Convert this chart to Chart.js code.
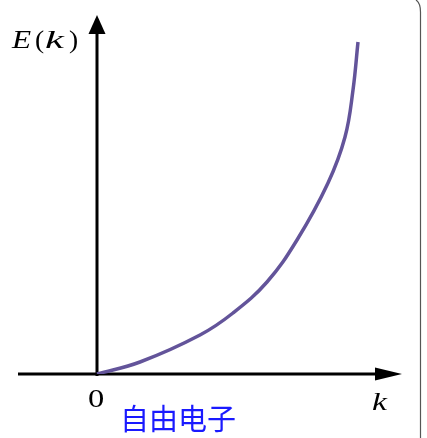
<!DOCTYPE html>
<html>
<head>
<meta charset="utf-8">
<script src="https://cdn.jsdelivr.net/npm/chart.js@4/dist/chart.umd.min.js"></script>
<style>
  html, body { margin: 0; padding: 0; background: #ffffff; }
  #wrap { width: 427px; height: 438px; position: relative; }
</style>
</head>
<body>
<div id="wrap"><canvas id="c" width="427" height="438"></canvas></div>
<script>
// Values (k in plot units from the origin, E(k) in plot units)
const kValues      = [0, 43, 103, 136, 170, 200, 231, 248, 256, 261];
const energyValues = [0, 12, 39,  61,  92,  134, 191, 237, 284, 332];
const yAxisLabel = ['E', '(', 'k', ')'];
const xAxisLabel = 'k';
const originLabel = '0';
const captionText = '自由电子';

const points = kValues.map((k, i) => ({ x: k, y: energyValues[i] }));

const axesPlugin = {
  id: 'arrowAxes',
  beforeDatasetsDraw(chart) {
    const { ctx, scales } = chart;
    const x = scales.x, y = scales.y;
    const ox = x.getPixelForValue(0);
    const oy = y.getPixelForValue(0);
    const xLeft = x.getPixelForValue(x.min);
    const xTip = x.getPixelForValue(x.max) + 2;
    const yTip = y.getPixelForValue(y.max) - 3;
    ctx.save();
    ctx.strokeStyle = '#000';
    ctx.fillStyle = '#000';
    ctx.lineWidth = 3;
    // x axis
    ctx.beginPath();
    ctx.moveTo(xLeft, oy);
    ctx.lineTo(xTip - 24, oy);
    ctx.stroke();
    ctx.beginPath();
    ctx.moveTo(xTip, oy);
    ctx.lineTo(xTip - 27, oy - 6.5);
    ctx.lineTo(xTip - 27, oy + 6.5);
    ctx.closePath();
    ctx.fill();
    // y axis
    ctx.beginPath();
    ctx.moveTo(ox, oy + 2);
    ctx.lineTo(ox, yTip + 17);
    ctx.stroke();
    ctx.beginPath();
    ctx.moveTo(ox, yTip);
    ctx.lineTo(ox - 8.5, yTip + 19);
    ctx.lineTo(ox + 8.5, yTip + 19);
    ctx.closePath();
    ctx.fill();
    ctx.restore();
  },
  afterDraw(chart) {
    const { ctx, scales } = chart;
    const x = scales.x, y = scales.y;
    const ox = x.getPixelForValue(0);
    const oy = y.getPixelForValue(0);
    const xEnd = x.getPixelForValue(x.max);
    const yTop = y.getPixelForValue(y.max);
    ctx.save();
    ctx.fillStyle = '#000';
    ctx.textBaseline = 'alphabetic';
    ctx.textAlign = 'left';
    const stretch = (txt, px, py, font, sx) => {
      ctx.save();
      ctx.font = font;
      ctx.translate(px, py);
      ctx.scale(sx, 1);
      ctx.fillText(txt, 0, 0);
      ctx.restore();
    };
    // E(k) label
    const italic = 'italic 25px "Liberation Serif", "DejaVu Serif", serif';
    const upright = '25px "Liberation Serif", "DejaVu Serif", serif';
    const ly = yTop + 30;
    stretch(yAxisLabel[0], ox - 85, ly, italic, 1.25);
    stretch(yAxisLabel[1], ox - 62, ly, upright, 1.1);
    stretch(yAxisLabel[2], ox - 52, ly, italic, 1.7);
    stretch(yAxisLabel[3], ox - 28, ly, upright, 1.1);
    // k label
    stretch(xAxisLabel, xEnd - 28, oy + 36, italic, 1.35);
    // origin label
    stretch(originLabel, ox - 9, oy + 33, '25px "Liberation Serif", "DejaVu Serif", serif', 1.3);
    // caption
    ctx.fillStyle = '#1a1aff';
    ctx.font = '29px "Noto Sans CJK SC", sans-serif';
    ctx.textAlign = 'center';
    ctx.textBaseline = 'middle';
    ctx.fillText(captionText, ox + 81, oy + 45);
    // right-hand frame edge
    ctx.strokeStyle = '#555';
    ctx.lineWidth = 1.2;
    ctx.beginPath();
    ctx.moveTo(416, 0);
    ctx.quadraticCurveTo(420.5, 3, 420.5, 12);
    ctx.lineTo(420.5, 438);
    ctx.stroke();
    ctx.restore();
  }
};

new Chart(document.getElementById('c'), {
  type: 'scatter',
  data: {
    datasets: [{
      data: points,
      showLine: true,
      borderColor: '#63549a',
      borderWidth: 3.5,
      pointRadius: 0,
      tension: 0.4,
      fill: false
    }]
  },
  options: {
    responsive: false,
    animation: false,
    layout: { padding: { left: 18, right: 27, top: 18, bottom: 64 } },
    plugins: { legend: { display: false }, tooltip: { enabled: false } },
    scales: {
      x: { type: 'linear', min: -79, max: 303, display: false },
      y: { type: 'linear', min: 0, max: 356, display: false }
    }
  },
  plugins: [axesPlugin]
});
</script>
</body>
</html>
